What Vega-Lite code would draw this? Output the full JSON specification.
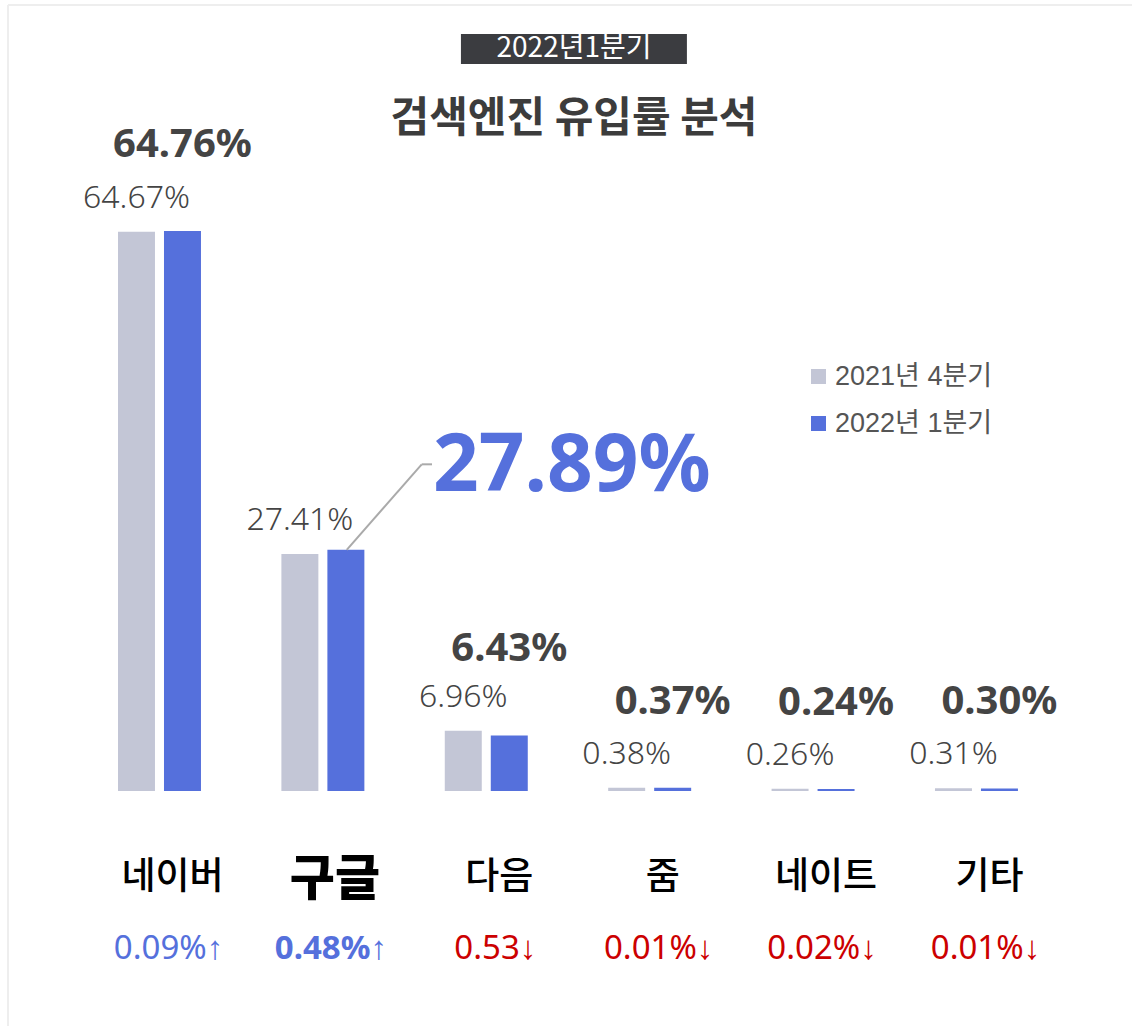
{
  "$schema": "https://vega.github.io/schema/vega-lite/v6.json",
  "width": 1132,
  "height": 1026,
  "padding": 0,
  "autosize": {"type": "none"},
  "background": "white",
  "config": {"view": {"stroke": null}},
  "datasets": {
    "bars": [
      {"engine": "네이버", "period": "2021년 4분기", "share": 64.67},
      {"engine": "네이버", "period": "2022년 1분기", "share": 64.76},
      {"engine": "구글", "period": "2021년 4분기", "share": 27.41},
      {"engine": "구글", "period": "2022년 1분기", "share": 27.89},
      {"engine": "다음", "period": "2021년 4분기", "share": 6.96},
      {"engine": "다음", "period": "2022년 1분기", "share": 6.43},
      {"engine": "줌", "period": "2021년 4분기", "share": 0.38},
      {"engine": "줌", "period": "2022년 1분기", "share": 0.37},
      {"engine": "네이트", "period": "2021년 4분기", "share": 0.26},
      {"engine": "네이트", "period": "2022년 1분기", "share": 0.24},
      {"engine": "기타", "period": "2021년 4분기", "share": 0.31},
      {"engine": "기타", "period": "2022년 1분기", "share": 0.30}
    ],
    "labels": [
      {"engine": "네이버", "change": "0.09%↑", "dir": "up"},
      {"engine": "구글", "change": "0.48%↑", "dir": "up"},
      {"engine": "다음", "change": "0.53↓", "dir": "down"},
      {"engine": "줌", "change": "0.01%↓", "dir": "down"},
      {"engine": "네이트", "change": "0.02%↓", "dir": "down"},
      {"engine": "기타", "change": "0.01%↓", "dir": "down"}
    ]
  },
  "layer": [
    {
      "data": {"name": "bars"},
      "encoding": {
        "x": {"field": "engine", "type": "nominal", "axis": null, "sort": null,
          "scale": {"type": "band", "domain": ["네이버", "구글", "다음", "줌", "네이트", "기타"], "paddingInner": 0, "paddingOuter": 0.464, "align": 0.513}},
        "xOffset": {"field": "period", "type": "nominal", "sort": null,
          "scale": {"type": "band", "domain": ["2021년 4분기", "2022년 1분기"], "paddingInner": 0.196, "paddingOuter": 0.874}},
        "y": {"field": "share", "type": "quantitative", "axis": null,
          "scale": {"domain": [-27.18, 91.48], "nice": false, "zero": false}}
      },
      "layer": [
        {
          "mark": {"type": "bar"},
          "encoding": {
            "y2": {"datum": 0},
            "color": {"field": "period", "type": "nominal",
              "scale": {"domain": ["2021년 4분기", "2022년 1분기"], "range": ["#c3c6d6", "#5570dc"]},
              "legend": {"orient": "none", "legendX": 805, "legendY": 363, "title": null, "symbolType": "square", "symbolSize": 225, "symbolStrokeWidth": 0, "labelFont": "Liberation Sans, Noto Sans CJK KR", "labelFontSize": 27, "labelLimit": 400, "labelColor": "#555555", "rowPadding": 19, "labelOffset": 3, "padding": 0}}
          }
        },
        {
          "transform": [{"filter": "datum.period === '2021년 4분기'"}],
          "mark": {"type": "text", "baseline": "alphabetic", "align": "center", "dy": -24, "font": "Noto Sans", "fontWeight": 300, "fontSize": 32, "color": "#444444",
            "text": {"expr": "format(datum.share, '.2f') + '%'"}}
        },
        {
          "transform": [{"filter": "datum.period === '2022년 1분기' && datum.engine !== '구글'"}],
          "mark": {"type": "text", "baseline": "alphabetic", "align": "center", "dy": -74, "font": "Noto Sans", "fontWeight": "bold", "fontSize": 40, "color": "#444444",
            "text": {"expr": "format(datum.share, '.2f') + '%'"}}
        },
        {
          "transform": [{"filter": "datum.period === '2022년 1분기' && datum.engine === '구글'"}],
          "mark": {"type": "text", "baseline": "alphabetic", "align": "center", "dx": 226, "dy": -59, "font": "Noto Sans", "fontWeight": "bold", "fontSize": 80, "color": "#5570dc",
            "text": {"expr": "format(datum.share, '.2f') + '%'"}}
        }
      ]
    },
    {
      "data": {"name": "labels"},
      "encoding": {
        "x": {"field": "engine", "type": "nominal", "axis": null, "sort": null,
          "scale": {"type": "band", "domain": ["네이버", "구글", "다음", "줌", "네이트", "기타"], "paddingInner": 0, "paddingOuter": 0.464, "align": 0.513}}
      },
      "layer": [
        {
          "transform": [{"filter": "datum.engine !== '구글'"}],
          "mark": {"type": "text", "baseline": "middle", "align": "center", "dx": 13, "font": "Noto Sans CJK KR", "fontWeight": 500, "fontSize": 37, "color": "#000000"},
          "encoding": {
            "y": {"datum": -10.06, "type": "quantitative", "scale": {"domain": [-27.18, 91.48], "nice": false, "zero": false}},
            "text": {"field": "engine"}
          }
        },
        {
          "transform": [{"filter": "datum.engine === '구글'"}],
          "mark": {"type": "text", "baseline": "middle", "align": "center", "dx": 12, "font": "Noto Sans CJK KR", "fontWeight": 900, "fontSize": 49, "color": "#000000"},
          "encoding": {
            "y": {"datum": -10.3, "type": "quantitative", "scale": {"domain": [-27.18, 91.48], "nice": false, "zero": false}},
            "text": {"field": "engine"}
          }
        },
        {
          "transform": [{"filter": "datum.engine !== '구글'"}],
          "mark": {"type": "text", "baseline": "middle", "align": "center", "dx": 9, "font": "Noto Sans", "fontWeight": 400, "fontSize": 33},
          "encoding": {
            "y": {"datum": -18.3, "type": "quantitative", "scale": {"domain": [-27.18, 91.48], "nice": false, "zero": false}},
            "text": {"field": "change"},
            "color": {"condition": {"test": "datum.dir === 'up'", "value": "#5570dc"}, "value": "#cc0000"}
          }
        },
        {
          "transform": [{"filter": "datum.engine === '구글'"}],
          "mark": {"type": "text", "baseline": "middle", "align": "center", "dx": 8, "font": "Noto Sans", "fontWeight": "bold", "fontSize": 33},
          "encoding": {
            "y": {"datum": -18.3, "type": "quantitative", "scale": {"domain": [-27.18, 91.48], "nice": false, "zero": false}},
            "text": {"field": "change"},
            "color": {"condition": {"test": "datum.dir === 'up'", "value": "#5570dc"}, "value": "#cc0000"}
          }
        }
      ]
    },
    {
      "data": {"values": [{}]},
      "layer": [
        {
          "mark": {"type": "rule", "color": "#eeeeee", "strokeWidth": 2},
          "encoding": {
            "x": {"datum": -0.927, "type": "quantitative", "axis": null, "scale": {"domain": [-0.976, 5.952], "nice": false, "zero": false}},
            "x2": {"datum": 5.952},
            "y": {"datum": 90.9, "type": "quantitative", "scale": {"domain": [-27.18, 91.48], "nice": false, "zero": false}}
          }
        },
        {
          "mark": {"type": "rule", "color": "#eeeeee", "strokeWidth": 2},
          "encoding": {
            "x": {"datum": -0.927, "type": "quantitative", "axis": null, "scale": {"domain": [-0.976, 5.952], "nice": false, "zero": false}},
            "y": {"datum": 90.9, "type": "quantitative", "scale": {"domain": [-27.18, 91.48], "nice": false, "zero": false}},
            "y2": {"datum": -27.18}
          }
        },
        {
          "mark": {"type": "rect", "color": "#3b3c40"},
          "encoding": {
            "x": {"datum": 1.845, "type": "quantitative", "axis": null, "scale": {"domain": [-0.976, 5.952], "nice": false, "zero": false}},
            "x2": {"datum": 3.228},
            "y": {"datum": 87.54, "type": "quantitative", "scale": {"domain": [-27.18, 91.48], "nice": false, "zero": false}},
            "y2": {"datum": 84.08}
          }
        },
        {
          "mark": {"type": "text", "text": "2022년1분기", "baseline": "middle", "align": "center", "font": "Noto Sans CJK KR", "fontWeight": 400, "fontSize": 28, "color": "#ffffff"},
          "encoding": {
            "x": {"datum": 2.537, "type": "quantitative", "axis": null, "scale": {"domain": [-0.976, 5.952], "nice": false, "zero": false}},
            "y": {"datum": 85.81, "type": "quantitative", "scale": {"domain": [-27.18, 91.48], "nice": false, "zero": false}}
          }
        },
        {
          "mark": {"type": "text", "text": "검색엔진 유입률 분석", "baseline": "middle", "align": "center", "font": "Noto Sans CJK KR", "fontWeight": 700, "fontSize": 42, "color": "#3c3c3c"},
          "encoding": {
            "x": {"datum": 2.537, "type": "quantitative", "axis": null, "scale": {"domain": [-0.976, 5.952], "nice": false, "zero": false}},
            "y": {"datum": 77.7, "type": "quantitative", "scale": {"domain": [-27.18, 91.48], "nice": false, "zero": false}}
          }
        },
        {
          "mark": {"type": "rule", "color": "#aaaaaa", "strokeWidth": 2},
          "encoding": {
            "x": {"datum": 1.146, "type": "quantitative", "axis": null, "scale": {"domain": [-0.976, 5.952], "nice": false, "zero": false}},
            "x2": {"datum": 1.605},
            "y": {"datum": 27.89, "type": "quantitative", "scale": {"domain": [-27.18, 91.48], "nice": false, "zero": false}},
            "y2": {"datum": 37.78}
          }
        },
        {
          "mark": {"type": "rule", "color": "#aaaaaa", "strokeWidth": 2},
          "encoding": {
            "x": {"datum": 1.605, "type": "quantitative", "axis": null, "scale": {"domain": [-0.976, 5.952], "nice": false, "zero": false}},
            "x2": {"datum": 1.668},
            "y": {"datum": 37.78, "type": "quantitative", "scale": {"domain": [-27.18, 91.48], "nice": false, "zero": false}}
          }
        }
      ]
    }
  ],
  "resolve": {"scale": {"x": "independent", "xOffset": "independent"}}
}
